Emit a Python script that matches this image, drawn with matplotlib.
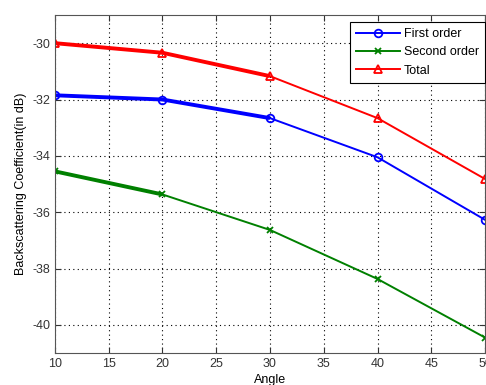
import matplotlib.pyplot as plt

plt.rcParams['font.family'] = ['Liberation Sans', 'DejaVu Sans']
plt.rcParams['axes.unicode_minus'] = False

# backscattering coefficient (dB) against incidence angle
angle = [10, 20, 30, 40, 50]
first_order = [-31.85, -32.0, -32.66, -34.05, -36.27]
second_order = [-34.55, -35.37, -36.63, -38.37, -40.45]
total = [-30.0, -30.34, -31.17, -32.66, -34.82]

series = [
    ('First order', first_order, 'b', 'o', 3),
    ('Second order', second_order, 'g', 'x', 2),
    ('Total', total, 'r', '^', 3),
]

fig = plt.figure(figsize=(4.86, 3.85), dpi=100)
ax = fig.add_axes([0.113, 0.083, 0.885, 0.878])

for label, vals, col, mk, n_thick in series:
    ax.plot(angle, vals, color=col, lw=1.4, marker=mk, markersize=5.5 if mk != 'x' else 4,
            markerfacecolor='none', markeredgecolor=col, mew=1.3, label=label)
    # heavier stroke over the first part of each curve
    ax.plot(angle[:n_thick], vals[:n_thick], color=col, lw=2.8, solid_capstyle='butt')

ax.set_xlim(10, 50)
ax.set_ylim(-41, -29)
ax.set_xticks(range(10, 51, 5))
ax.set_yticks(range(-40, -29, 2))
ax.grid(True, color='black', linestyle=(0, (1, 3)), linewidth=0.8)
ax.tick_params(direction='in', top=True, right=True, length=4, labelsize=9,
               colors='#333333', labelcolor='#333333')
for sp in ax.spines.values():
    sp.set_color('#555555')

ax.set_xlabel('Angle', fontsize=9, labelpad=3)
ax.set_ylabel('Backscattering Coefficient(in dB)', fontsize=9, labelpad=4)

leg = ax.legend(loc='upper right', bbox_to_anchor=(1.0, 0.98), borderaxespad=0,
                fontsize=9, handlelength=3.5, handletextpad=0.3, labelspacing=0.5,
                borderpad=0.5, fancybox=False, framealpha=1)
leg.get_frame().set_edgecolor('black')
leg.get_frame().set_linewidth(0.8)

fig.savefig('out.png', dpi=100)
